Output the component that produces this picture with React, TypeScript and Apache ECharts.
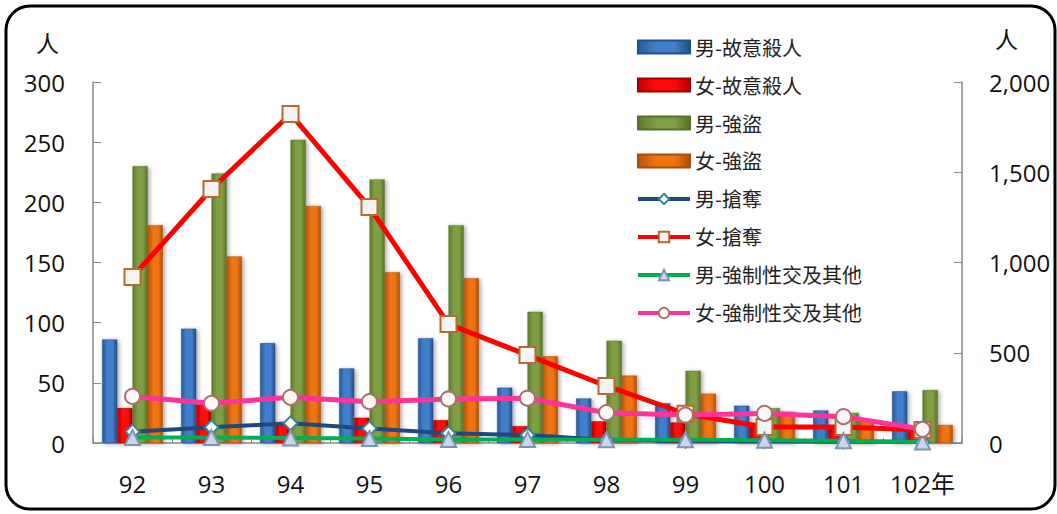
import React, { useEffect, useRef } from "react";
import * as echarts from "echarts";

const years = ["92", "93", "94", "95", "96", "97", "98", "99", "100", "101", "102年"];
const maleHomicide = [86, 95, 83, 62, 87, 46, 37, 33, 31, 27, 43];
const femaleHomicide = [29, 32, 17, 21, 19, 14, 18, 17, 14, 13, 10];
const maleRobbery = [230, 224, 252, 219, 181, 109, 85, 60, 29, 25, 44];
const femaleRobbery = [181, 155, 197, 142, 137, 72, 56, 41, 26, 19, 15];
const maleSnatch = [63, 87, 109, 81, 54, 44, 17, 12, 10, 8, 5];
const femaleSnatch = [920, 1407, 1823, 1307, 659, 487, 316, 162, 89, 89, 72];
const maleSexual = [30, 30, 28, 25, 20, 20, 18, 18, 15, 12, 5];
const femaleSexual = [258, 220, 253, 229, 244, 248, 168, 155, 164, 146, 76];

const seriesNames = [
  "男-故意殺人",
  "女-故意殺人",
  "男-強盜",
  "女-強盜",
  "男-搶奪",
  "女-搶奪",
  "男-強制性交及其他",
  "女-強制性交及其他",
];

const leftAxis = { min: 0, max: 300, interval: 50 };
const rightAxis = { min: 0, max: 2000, interval: 500 };

const FONT = "'Open Sans', 'Noto Sans', 'Noto Sans CJK TC', sans-serif";
const CJK = "'Noto Sans CJK TC', 'Noto Sans', sans-serif";

function hGrad(edge: string, mid: string, edge2: string) {
  return new echarts.graphic.LinearGradient(0, 0, 1, 0, [
    { offset: 0, color: edge },
    { offset: 0.35, color: mid },
    { offset: 0.7, color: mid },
    { offset: 1, color: edge2 },
  ]);
}

export default function App() {
  const ref = useRef<HTMLDivElement>(null);
  useEffect(() => {
    if (!ref.current) return;
    const chart = echarts.init(ref.current, null, { renderer: "svg" });
    const shadow = {
      shadowBlur: 4,
      shadowColor: "rgba(0,0,0,0.35)",
      shadowOffsetX: 2,
      shadowOffsetY: 1,
    };
    const barSeries = (name: string, data: number[], color: any, border: string) => ({
      name,
      type: "bar",
      yAxisIndex: 0,
      data,
      barGap: "0%",
      barCategoryGap: "23%",
      itemStyle: { color, borderColor: border, borderWidth: 0.5, ...shadow },
    });
    const lineSeries = (
      name: string,
      data: number[],
      color: string,
      width: number,
      symbol: string,
      size: number | number[],
      fill: string,
      border: string
    ) => ({
      name,
      type: "line",
      yAxisIndex: 1,
      data,
      symbol,
      symbolSize: size,
      showSymbol: true,
      lineStyle: { color, width },
      itemStyle: { color: fill, borderColor: border, borderWidth: 2 },
      z: 3,
    });

    const legendData = seriesNames.map((name, i) =>
      i < 4 ? { name, icon: "rect" } : { name, lineStyle: { width: 4 } }
    );

    chart.setOption({
      animation: false,
      backgroundColor: "#ffffff",
      textStyle: { fontFamily: FONT },
      grid: { left: 93, right: 95, top: 82, bottom: 71, containLabel: false },
      legend: {
        orient: "vertical",
        left: 636,
        top: 37,
        padding: 0,
        itemWidth: 52,
        itemHeight: 13,
        itemGap: 18,
        textStyle: { fontSize: 20, color: "#222", fontFamily: CJK },
        data: legendData,
      },
      xAxis: {
        type: "category",
        data: years,
        boundaryGap: true,
        axisLine: { lineStyle: { color: "#888888", width: 1.5 } },
        axisTick: { show: true, inside: true, length: 5, lineStyle: { color: "#888888" } },
        axisLabel: { fontSize: 24, color: "#111", margin: 28, interval: 0, fontFamily: FONT },
      },
      yAxis: [
        {
          type: "value",
          ...leftAxis,
          splitLine: { show: false },
          axisLine: { show: true, lineStyle: { color: "#888888", width: 1.5 } },
          axisTick: { show: true, inside: true, length: 8, lineStyle: { color: "#888888" } },
          axisLabel: { fontSize: 24, color: "#111", margin: 28, fontFamily: FONT },
        },
        {
          type: "value",
          ...rightAxis,
          position: "right",
          splitLine: { show: false },
          axisLine: { show: true, lineStyle: { color: "#888888", width: 1.5 } },
          axisTick: { show: true, inside: true, length: 8, lineStyle: { color: "#888888" } },
          axisLabel: {
            fontSize: 24,
            color: "#111",
            margin: 27,
            fontFamily: FONT,
            formatter: (v: number) => v.toLocaleString("en-US"),
          },
        },
      ],
      graphic: [
        {
          type: "rect",
          shape: { x: 6, y: 6, width: 1049, height: 503, r: 24 },
          style: { fill: "none", stroke: "#000", lineWidth: 3 },
          silent: true,
        },
        {
          type: "text",
          left: 36,
          top: 30,
          style: { text: "人", fontSize: 23, fill: "#111", fontFamily: CJK },
        },
        {
          type: "text",
          left: 995,
          top: 26,
          style: { text: "人", fontSize: 23, fill: "#111", fontFamily: CJK },
        },
      ],
      series: [
        barSeries(seriesNames[0], maleHomicide, hGrad("#2a5a96", "#3f7fcc", "#244f86"), "#244f86"),
        barSeries(seriesNames[1], femaleHomicide, hGrad("#c00000", "#ff0a0a", "#b00000"), "#a00000"),
        barSeries(seriesNames[2], maleRobbery, hGrad("#5f7b2c", "#7f9f43", "#5a7428"), "#55702a"),
        barSeries(seriesNames[3], femaleRobbery, hGrad("#b85508", "#ee7412", "#b04f06"), "#a84c08"),
        lineSeries(seriesNames[4], maleSnatch, "#1f497d", 4, "diamond", 14, "#ffffff", "#31859c"),
        lineSeries(seriesNames[5], femaleSnatch, "#ff0000", 5, "rect", 16, "#f4f4f4", "#b8692c"),
        lineSeries(seriesNames[6], maleSexual, "#00b050", 4, "triangle", 15, "#c9d5e8", "#7f93b5"),
        lineSeries(seriesNames[7], femaleSexual, "#ff3399", 5, "circle", 15, "#fbf7f7", "#a87070"),
      ],
    });
    return () => chart.dispose();
  }, []);
  return (
    <div
      ref={ref}
      style={{ position: "fixed", left: 0, top: 0, width: 1057, height: 514, background: "#fff" }}
    />
  );
}
